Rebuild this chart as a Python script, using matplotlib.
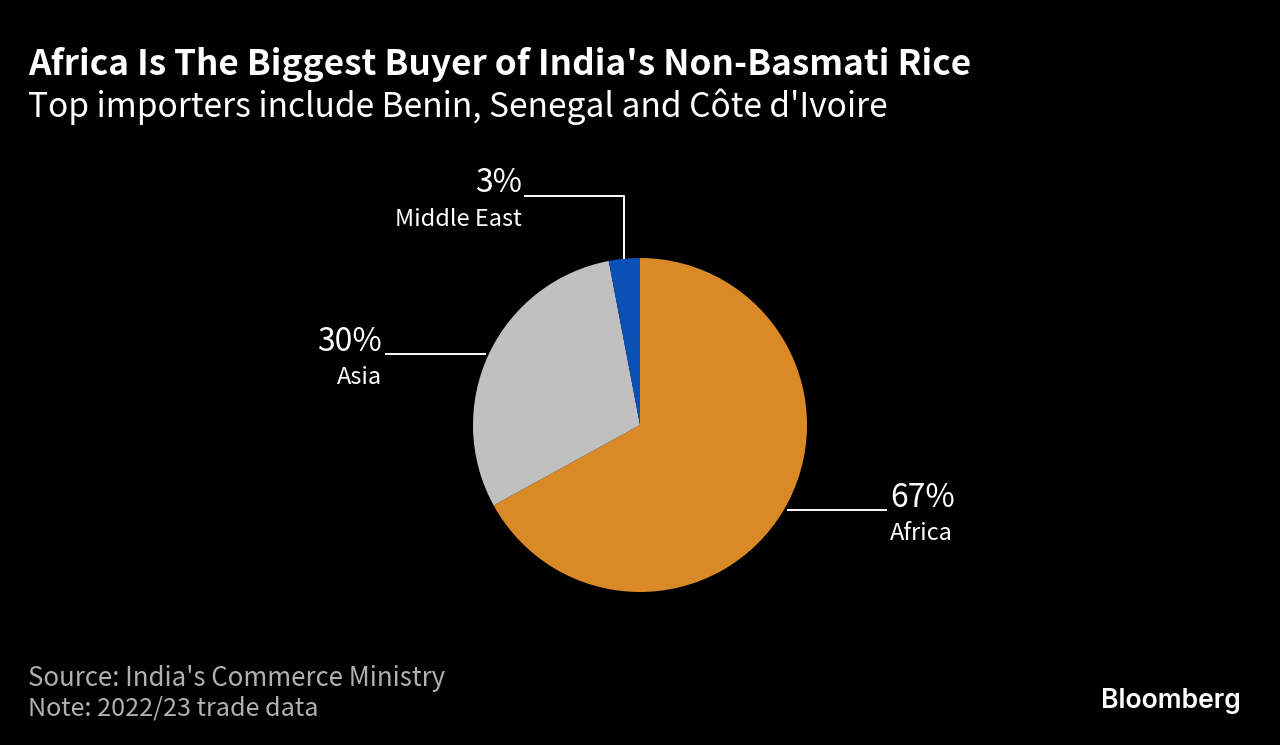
import matplotlib
matplotlib.use("Agg")
from matplotlib import pyplot as plt

regions = ["Africa", "Asia", "Middle East"]
shares = [67, 30, 3]
share_labels = ["67%", "30%", "3%"]
colors = ["#D98A26", "#C0C0C0", "#0A50B5"]

# CJK family has Source Sans style latin, closest to the original
plt.rcParams['font.family'] = ['Noto Sans CJK JP', 'DejaVu Sans']

W, H = 1280, 745
fig = plt.figure(figsize=(W / 100, H / 100), dpi=100, facecolor='black')

# pie axes, centre 640,425 radius 167 px
ax = fig.add_axes([(640 - 167) / W, 1 - (425 + 167) / H, 334 / W, 334 / H])
ax.pie(shares, colors=colors, startangle=90, counterclock=False, radius=1,
       wedgeprops={'linewidth': 0})
ax.set_xlim(-1, 1)
ax.set_ylim(-1, 1)
ax.set_aspect('equal')

# overlay in pixel coords for leaders and text
ov = fig.add_axes([0, 0, 1, 1], facecolor='none')
ov.set_xlim(0, W)
ov.set_ylim(H, 0)
ov.axis('off')

ov.plot([788, 886], [510, 510], color='white', lw=1.4)
ov.plot([386, 485], [354, 354], color='white', lw=1.4)
ov.plot([525, 624, 624], [196, 196, 258], color='white', lw=1.4)

ov.text(890, 498, share_labels[0], color='white', fontsize=23, ha='left', va='center')
ov.text(890, 533, regions[0], color='white', fontsize=17, ha='left', va='center')
ov.text(382, 342, share_labels[1], color='white', fontsize=23, ha='right', va='center')
ov.text(382, 378, regions[1], color='white', fontsize=17, ha='right', va='center')
ov.text(522, 183, share_labels[2], color='white', fontsize=23, ha='right', va='center')
ov.text(522, 219, regions[2], color='white', fontsize=17, ha='right', va='center')

ov.text(28, 64, "Africa Is The Biggest Buyer of India's Non-Basmati Rice", color='white',
        fontsize=25.35, fontweight='bold', ha='left', va='center')
ov.text(28, 107, "Top importers include Benin, Senegal and Côte d'Ivoire", color='white',
        fontsize=24.1, ha='left', va='center')
ov.text(28, 678, "Source: India's Commerce Ministry", color='#B0B0B0', fontsize=18.6, ha='left', va='center')
ov.text(28, 708, "Note: 2022/23 trade data", color='#B0B0B0', fontsize=18.1, ha='left', va='center')
ov.text(1241, 701, "Bloomberg", color='white', fontsize=19.1, fontweight='semibold', ha='right', va='center',
        family=['Inter', 'DejaVu Sans'])

fig.savefig('out.png', dpi=100, facecolor='black')
